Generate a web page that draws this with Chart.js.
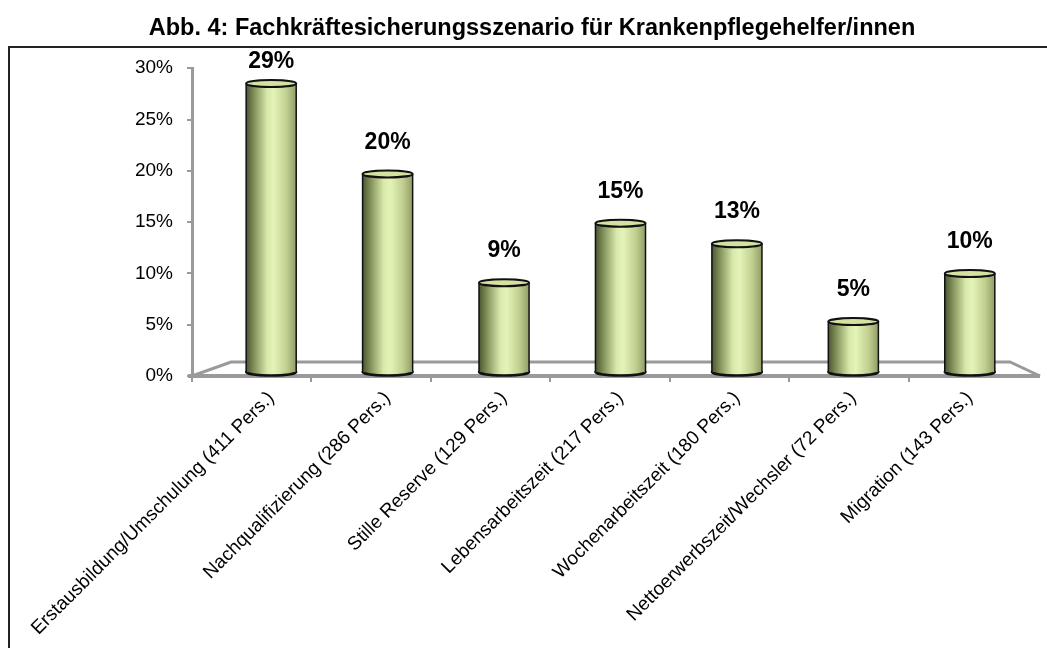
<!DOCTYPE html>
<html>
<head>
<meta charset="utf-8">
<script src="https://cdn.jsdelivr.net/npm/chart.js@4.4.1/dist/chart.umd.min.js"></script>
<style>
    html, body { margin: 0; padding: 0; background: #fff; }
    #wrap { width: 1047px; height: 648px; }
</style>
</head>
<body>
<div id="wrap"><canvas id="chart" width="1047" height="648"></canvas></div>
<script>
// Data
const chartTitle = 'Abb. 4: Fachkräftesicherungsszenario für Krankenpflegehelfer/innen';
const categories = [
    'Erstausbildung/Umschulung (411 Pers.)',
    'Nachqualifizierung (286 Pers.)',
    'Stille Reserve (129 Pers.)',
    'Lebensarbeitszeit (217 Pers.)',
    'Wochenarbeitszeit (180 Pers.)',
    'Nettoerwerbszeit/Wechsler (72 Pers.)',
    'Migration (143 Pers.)'
];
const shares = [28.5, 19.7, 9.1, 14.9, 12.9, 5.3, 10.0];
const yMin = 0;
const yMax = 30;
const yStep = 5;

const fontFamily = "'Liberation Sans', Arial, Helvetica, sans-serif";
const axisGray = '#9a9a9a';

// White page + outer frame around the chart
const framePlugin = {
    id: 'frame',
    beforeDraw(chart) {
        const ctx = chart.ctx;
        ctx.save();
        ctx.fillStyle = '#fff';
        ctx.fillRect(0, 0, chart.width, chart.height);
        ctx.strokeStyle = '#222';
        ctx.lineWidth = 2;
        ctx.strokeRect(9, 47, chart.width + 40, chart.height + 40);
        ctx.restore();
    }
};

// Pseudo-3D floor under the bars
const floorPlugin = {
    id: 'floor',
    beforeDatasetsDraw(chart) {
        const { ctx, chartArea: a } = chart;
        const depthX = 39, depthY = 14;
        ctx.save();
        ctx.strokeStyle = axisGray;
        ctx.lineWidth = 3;
        ctx.beginPath();
        ctx.moveTo(a.left, a.bottom);
        ctx.lineTo(a.left + depthX, a.bottom - depthY);
        ctx.lineTo(a.right - 18, a.bottom - depthY);
        ctx.lineTo(a.right + 12, a.bottom);
        ctx.stroke();
        ctx.lineWidth = 4;
        ctx.beginPath();
        ctx.moveTo(a.left - 4, a.bottom);
        ctx.lineTo(a.right + 12, a.bottom);
        ctx.stroke();
        // small category separators on the front edge
        ctx.lineWidth = 2;
        const step = (a.right - a.left) / categories.length;
        for (let k = 0; k <= categories.length - 1; k++) {
            const x = Math.round(a.left + k * step);
            ctx.beginPath();
            ctx.moveTo(x, a.bottom);
            ctx.lineTo(x, a.bottom + 6);
            ctx.stroke();
        }
        ctx.restore();
    }
};

// Cylinder shading and value labels on top of the library's bars
const cylinderPlugin = {
    id: 'cylinders',
    afterDatasetsDraw(chart) {
        const { ctx, chartArea: a } = chart;
        const meta = chart.getDatasetMeta(0);
        ctx.save();
        meta.data.forEach((bar, i) => {
            const { x, y, base, width } = bar.getProps(['x', 'y', 'base', 'width'], true);
            const l = x - width / 2, r = x + width / 2;
            const ry = 3.5;

            const g = ctx.createLinearGradient(l, 0, r, 0);
            g.addColorStop(0, '#4a5631');
            g.addColorStop(0.15, '#7f8e57');
            g.addColorStop(0.42, '#d9e9ab');
            g.addColorStop(0.55, '#e4f3b8');
            g.addColorStop(0.8, '#c2d191');
            g.addColorStop(1, '#8f9d66');

            // bottom ellipse
            ctx.beginPath();
            ctx.ellipse(x, base - 3, width / 2, ry, 0, 0, Math.PI * 2);
            ctx.fillStyle = g;
            ctx.fill();
            ctx.lineWidth = 2.5;
            ctx.strokeStyle = '#111';
            ctx.stroke();

            // body
            ctx.fillStyle = g;
            ctx.fillRect(l, y, width, base - 3 - y);
            ctx.lineWidth = 1.5;
            ctx.beginPath();
            ctx.moveTo(l, y);
            ctx.lineTo(l, base - 3);
            ctx.moveTo(r, y);
            ctx.lineTo(r, base - 3);
            ctx.stroke();

            // top cap
            ctx.beginPath();
            ctx.ellipse(x, y, width / 2, ry, 0, 0, Math.PI * 2);
            ctx.fillStyle = '#d3e2a0';
            ctx.fill();
            ctx.lineWidth = 2;
            ctx.strokeStyle = '#111';
            ctx.stroke();

            // value label
            const ty = Math.max(y - 20, a.top + 5);
            ctx.fillStyle = '#000';
            ctx.font = `bold 23px ${fontFamily}`;
            ctx.textAlign = 'center';
            ctx.textBaseline = 'bottom';
            ctx.fillText(Math.round(shares[i]) + '%', x, ty);
        });
        ctx.restore();
    }
};

const ctx = document.getElementById('chart').getContext('2d');
const chart = new Chart(ctx, {
    type: 'bar',
    data: {
        datasets: [{
            data: shares.map((v, i) => ({ x: i, y: v })),
            backgroundColor: 'rgba(0,0,0,0)',
            borderWidth: 0,
            categoryPercentage: 1,
            barPercentage: 0.43
        }]
    },
    options: {
        responsive: false,
        animation: false,
        devicePixelRatio: 1,
        layout: { padding: { left: 36, right: 19, top: 0, bottom: 0 } },
        plugins: {
            legend: { display: false },
            tooltip: { enabled: false },
            title: {
                display: true,
                text: chartTitle,
                color: '#000',
                font: { family: fontFamily, size: 23.5, weight: 'bold' },
                padding: { top: 14, bottom: 26 }
            }
        },
        scales: {
            x: {
                type: 'linear',
                offset: false,
                min: -0.68,
                max: 6.5,
                grid: { display: false },
                border: { display: false },
                afterBuildTicks: (s) => { s.ticks = categories.map((c, i) => ({ value: i })); },
                afterFit: (s) => { s.height = 272; s.paddingLeft = 0; s.paddingRight = 0; },
                ticks: {
                    autoSkip: false,
                    minRotation: 45,
                    maxRotation: 45,
                    padding: 3,
                    color: '#000',
                    font: { family: fontFamily, size: 19 },
                    callback: (v) => categories[v]
                }
            },
            y: {
                min: yMin,
                max: yMax,
                afterFit: (s) => { s.width = 156; },
                grid: { drawOnChartArea: false, tickLength: 5, color: axisGray, lineWidth: 2 },
                border: { color: axisGray, width: 3 },
                ticks: {
                    stepSize: yStep,
                    padding: 14,
                    color: '#000',
                    font: { family: fontFamily, size: 19 },
                    callback: (v) => v + '%'
                }
            }
        }
    },
    plugins: [framePlugin, floorPlugin, cylinderPlugin]
});
</script>
</body>
</html>
